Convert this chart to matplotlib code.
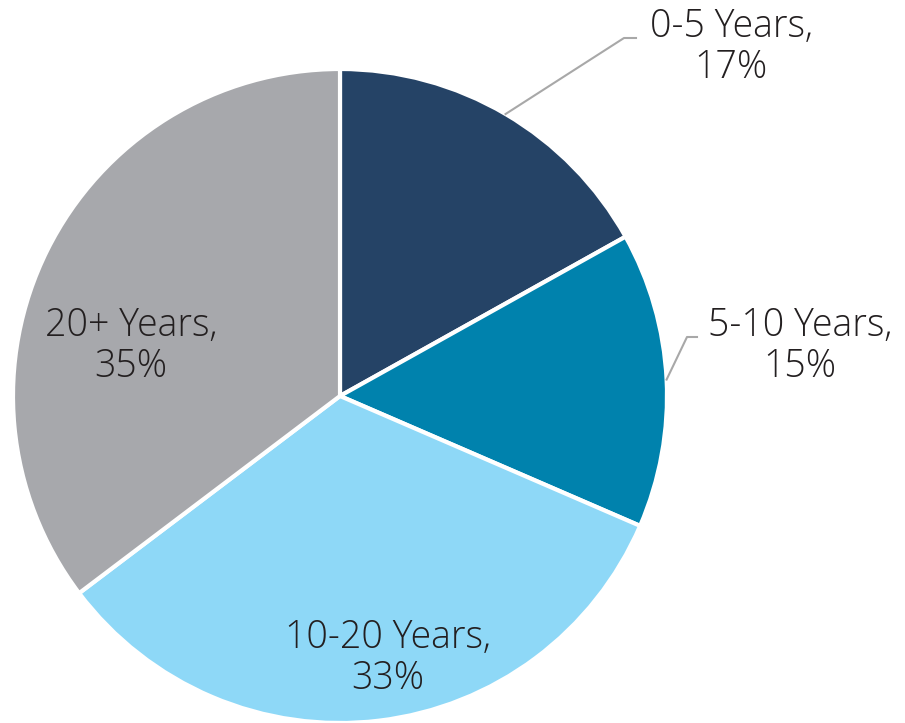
import matplotlib
matplotlib.use("Agg")
import matplotlib.pyplot as plt
import numpy as np

categories = ["0-5 Years", "5-10 Years", "10-20 Years", "20+ Years"]
values = [16.9, 14.6, 33.2, 35.3]
pct_labels = ["17%", "15%", "33%", "35%"]
colors = ["#254366", "#0082AD", "#8ED8F7", "#A7A8AC"]

W, H = 905, 723
fig = plt.figure(figsize=(W / 100, H / 100), dpi=100)
ax = fig.add_axes([0, 0, 1, 1])

cx, cy, r = 340, H - 396, 327
wedges, _ = ax.pie(values, colors=colors, startangle=90, counterclock=False,
                   center=(cx, cy), radius=r, frame=True,
                   wedgeprops=dict(edgecolor="white", linewidth=3))
ax.set_xlim(0, W)
ax.set_ylim(0, H)
ax.set_aspect("equal")
ax.axis("off")

font = dict(family=["Open Sans", "DejaVu Sans"], fontweight="light", fontsize=27,
            color="#231F20", ha="center", va="center", linespacing=1.08)

labels_pos = [(731, H - 47), (800, H - 346), (388, H - 658), (131, H - 346)]
for (c, p, (x, y)) in zip(categories, pct_labels, labels_pos):
    ax.text(x, y, f"{c},\n{p}", **font)

# leader lines
tot = sum(values)
cum = np.cumsum([0] + values)
def edge_pt(i):
    mid = 90 - (cum[i] + values[i] / 2) / tot * 360
    a = np.deg2rad(mid)
    return cx + r * np.cos(a), cy + r * np.sin(a)

p0 = edge_pt(0)
ax.plot([p0[0], 624, 636], [p0[1], H - 38, H - 38], color="#A8A8A8", lw=1.5)
p1 = edge_pt(1)
ax.plot([p1[0], 687, 697], [p1[1], H - 337, H - 337], color="#A8A8A8", lw=1.5)

fig.savefig("out.png", dpi=100)
